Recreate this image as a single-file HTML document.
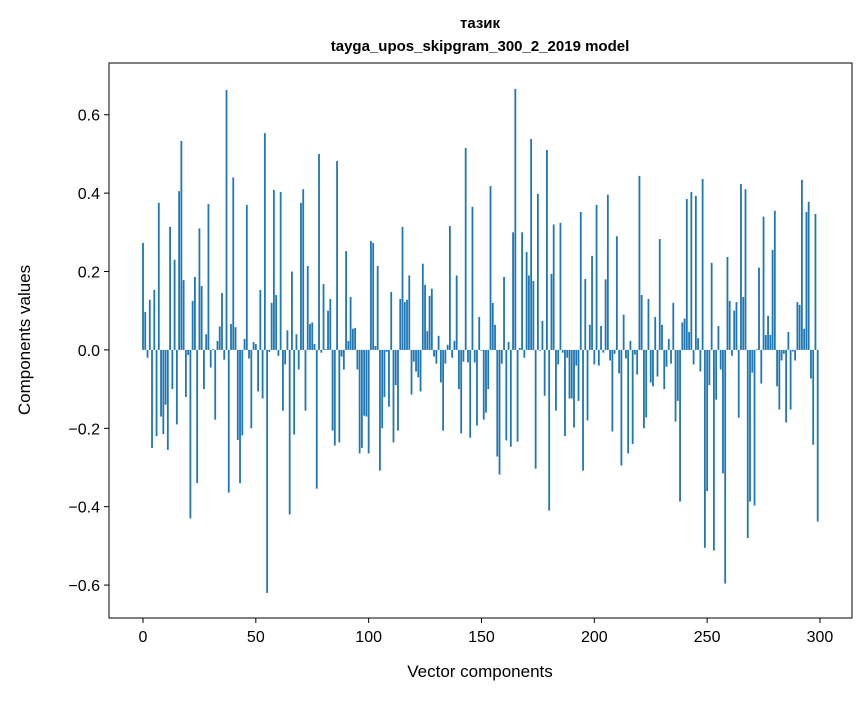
<!DOCTYPE html>
<html><head><meta charset="utf-8"><style>
body{margin:0;background:#fff;}
svg text{font-family:"Liberation Sans","DejaVu Sans",sans-serif;fill:#000;}
</style></head><body>
<svg id="chart" width="867" height="696" viewBox="0 0 867 696" xmlns="http://www.w3.org/2000/svg">
<rect width="867" height="696" fill="#fff"/>
<text x="480" y="28" text-anchor="middle" font-size="15" font-weight="bold" style="font-family:'Liberation Sans','DejaVu Sans',sans-serif">тазик</text>
<text x="480" y="51" text-anchor="middle" font-size="15" font-weight="bold">tayga_upos_skipgram_300_2_2019 model</text>
<g id="bars"></g>
<g id="axes"></g>
<text x="480" y="677" text-anchor="middle" font-size="17">Vector components</text>
<text transform="translate(30,340) rotate(-90)" text-anchor="middle" font-size="17">Components values</text>
</svg>
<script>
const values = [0.273,0.097,-0.02,0.128,-0.25,0.153,-0.22,0.375,-0.17,-0.215,
-0.14,-0.255,0.314,-0.1,0.23,-0.19,0.405,0.533,0.178,-0.12,
-0.013,-0.43,0.125,0.186,-0.34,0.31,0.163,-0.1,0.04,0.372,
-0.045,0.002,-0.178,0.023,0.06,0.145,-0.025,0.663,-0.364,0.066,
0.44,0.058,-0.23,-0.34,-0.218,0.028,0.37,-0.022,-0.2,0.02,
0.015,-0.106,0.153,-0.124,0.553,-0.62,-0.005,0.12,0.408,0.14,
-0.015,0.403,-0.155,-0.037,0.05,-0.42,0.2,-0.216,0.04,-0.05,
0.375,0.41,-0.155,0.214,0.066,0.07,0.015,-0.354,0.5,-0.007,
0.168,0.002,0.1,0.13,-0.206,-0.244,0.482,-0.236,-0.017,-0.05,
0.252,0.023,0.135,0.054,0.056,-0.05,-0.264,-0.25,-0.168,-0.17,
-0.264,0.278,0.273,0.01,0.214,-0.308,-0.2,-0.12,-0.005,-0.145,
0.148,-0.236,-0.09,-0.206,0.13,0.314,0.122,0.128,0.19,-0.114,
-0.03,-0.055,-0.07,-0.106,0.22,0.166,0.048,0.138,0.156,-0.017,
-0.035,0.036,-0.083,-0.206,-0.035,0.013,0.316,-0.02,0.023,0.19,
-0.1,-0.213,-0.03,0.515,-0.032,-0.224,0.365,-0.032,-0.193,0.084,
-0.002,-0.178,-0.16,-0.1,0.418,0.12,0.064,-0.272,-0.318,-0.035,
0.186,-0.231,0.02,-0.247,0.3,0.666,-0.234,0.005,0.3,-0.02,
0.25,0.19,0.538,0.176,-0.303,0.398,-0.002,0.074,-0.117,0.51,
-0.41,0.194,0.32,-0.155,-0.037,0.324,-0.007,-0.22,-0.02,-0.124,
-0.124,-0.198,-0.04,-0.13,0.352,-0.308,0.181,-0.18,0.064,0.24,
-0.037,0.37,-0.04,0.061,-0.007,0.18,0.396,-0.027,-0.208,-0.01,
0.29,-0.06,-0.295,0.09,-0.022,-0.264,0.023,-0.24,-0.012,-0.063,
0.444,0.14,-0.2,-0.172,0.13,-0.083,-0.093,0.084,-0.068,0.283,
0.064,-0.1,-0.043,0.028,-0.035,0.12,-0.183,-0.13,-0.387,0.07,
0.08,0.385,0.046,0.403,-0.037,0.393,0.03,-0.055,0.436,-0.505,
-0.36,-0.09,0.222,-0.512,-0.127,0.061,-0.05,-0.315,-0.596,0.237,
0.125,-0.015,0.1,0.122,-0.173,0.423,0.135,0.41,-0.48,-0.387,
-0.058,-0.397,0.002,0.21,-0.086,0.34,0.038,0.087,0.038,0.255,
0.355,-0.093,-0.152,-0.027,-0.01,-0.185,0.046,-0.152,-0.004,-0.027,
0.122,0.115,0.434,0.054,0.352,0.378,-0.073,-0.242,0.347,-0.438];
const xTicks = [0,50,100,150,200,250,300];
const yTicks = [-0.6,-0.4,-0.2,0.0,0.2,0.4,0.6];
const NS="http://www.w3.org/2000/svg";
const L=109,R=852,T=63,B=618;
const xmin=-15.07,xmax=314.2,ymin=-0.684,ymax=0.732;
function xs(v){return L+(v-xmin)/(xmax-xmin)*(R-L);}
function ys(v){return T+(ymax-v)/(ymax-ymin)*(B-T);}
const bars=document.getElementById('bars');
values.forEach((v,i)=>{
  const r=document.createElementNS(NS,'rect');
  const x0=xs(i-0.4),x1=xs(i+0.4);
  const y0=ys(Math.max(v,0)),y1=ys(Math.min(v,0));
  r.setAttribute('x',x0);r.setAttribute('width',x1-x0);
  r.setAttribute('y',y0);r.setAttribute('height',Math.max(y1-y0,0.01));
  r.setAttribute('fill','#1f77b4');
  
  
  bars.appendChild(r);
});
const ax=document.getElementById('axes');
const frame=document.createElementNS(NS,'rect');
frame.setAttribute('x',L);frame.setAttribute('y',T);frame.setAttribute('width',R-L);frame.setAttribute('height',B-T);
frame.setAttribute('fill','none');frame.setAttribute('stroke','#000');frame.setAttribute('stroke-width','1');


ax.appendChild(frame);
xTicks.forEach(t=>{
  const x=xs(t);
  const l=document.createElementNS(NS,'line');
  l.setAttribute('x1',x);l.setAttribute('x2',x);l.setAttribute('y1',B);l.setAttribute('y2',B+5);l.setAttribute('stroke','#000');
  
  
  ax.appendChild(l);
  const tx=document.createElementNS(NS,'text');
  tx.setAttribute('x',x);tx.setAttribute('y',B+24);tx.setAttribute('text-anchor','middle');tx.setAttribute('font-size','16');
  tx.textContent=String(t);
  
  
  ax.appendChild(tx);
});
yTicks.forEach(t=>{
  const y=ys(t);
  const l=document.createElementNS(NS,'line');
  l.setAttribute('x1',L-5);l.setAttribute('x2',L);l.setAttribute('y1',y);l.setAttribute('y2',y);l.setAttribute('stroke','#000');
  
  
  ax.appendChild(l);
  const tx=document.createElementNS(NS,'text');
  tx.setAttribute('x',L-9);tx.setAttribute('y',y+6);tx.setAttribute('text-anchor','end');tx.setAttribute('font-size','16');
  tx.textContent=(t<0?'\u2212':'')+Math.abs(t).toFixed(1);
  
  
  ax.appendChild(tx);
});
</script>
</body></html>
